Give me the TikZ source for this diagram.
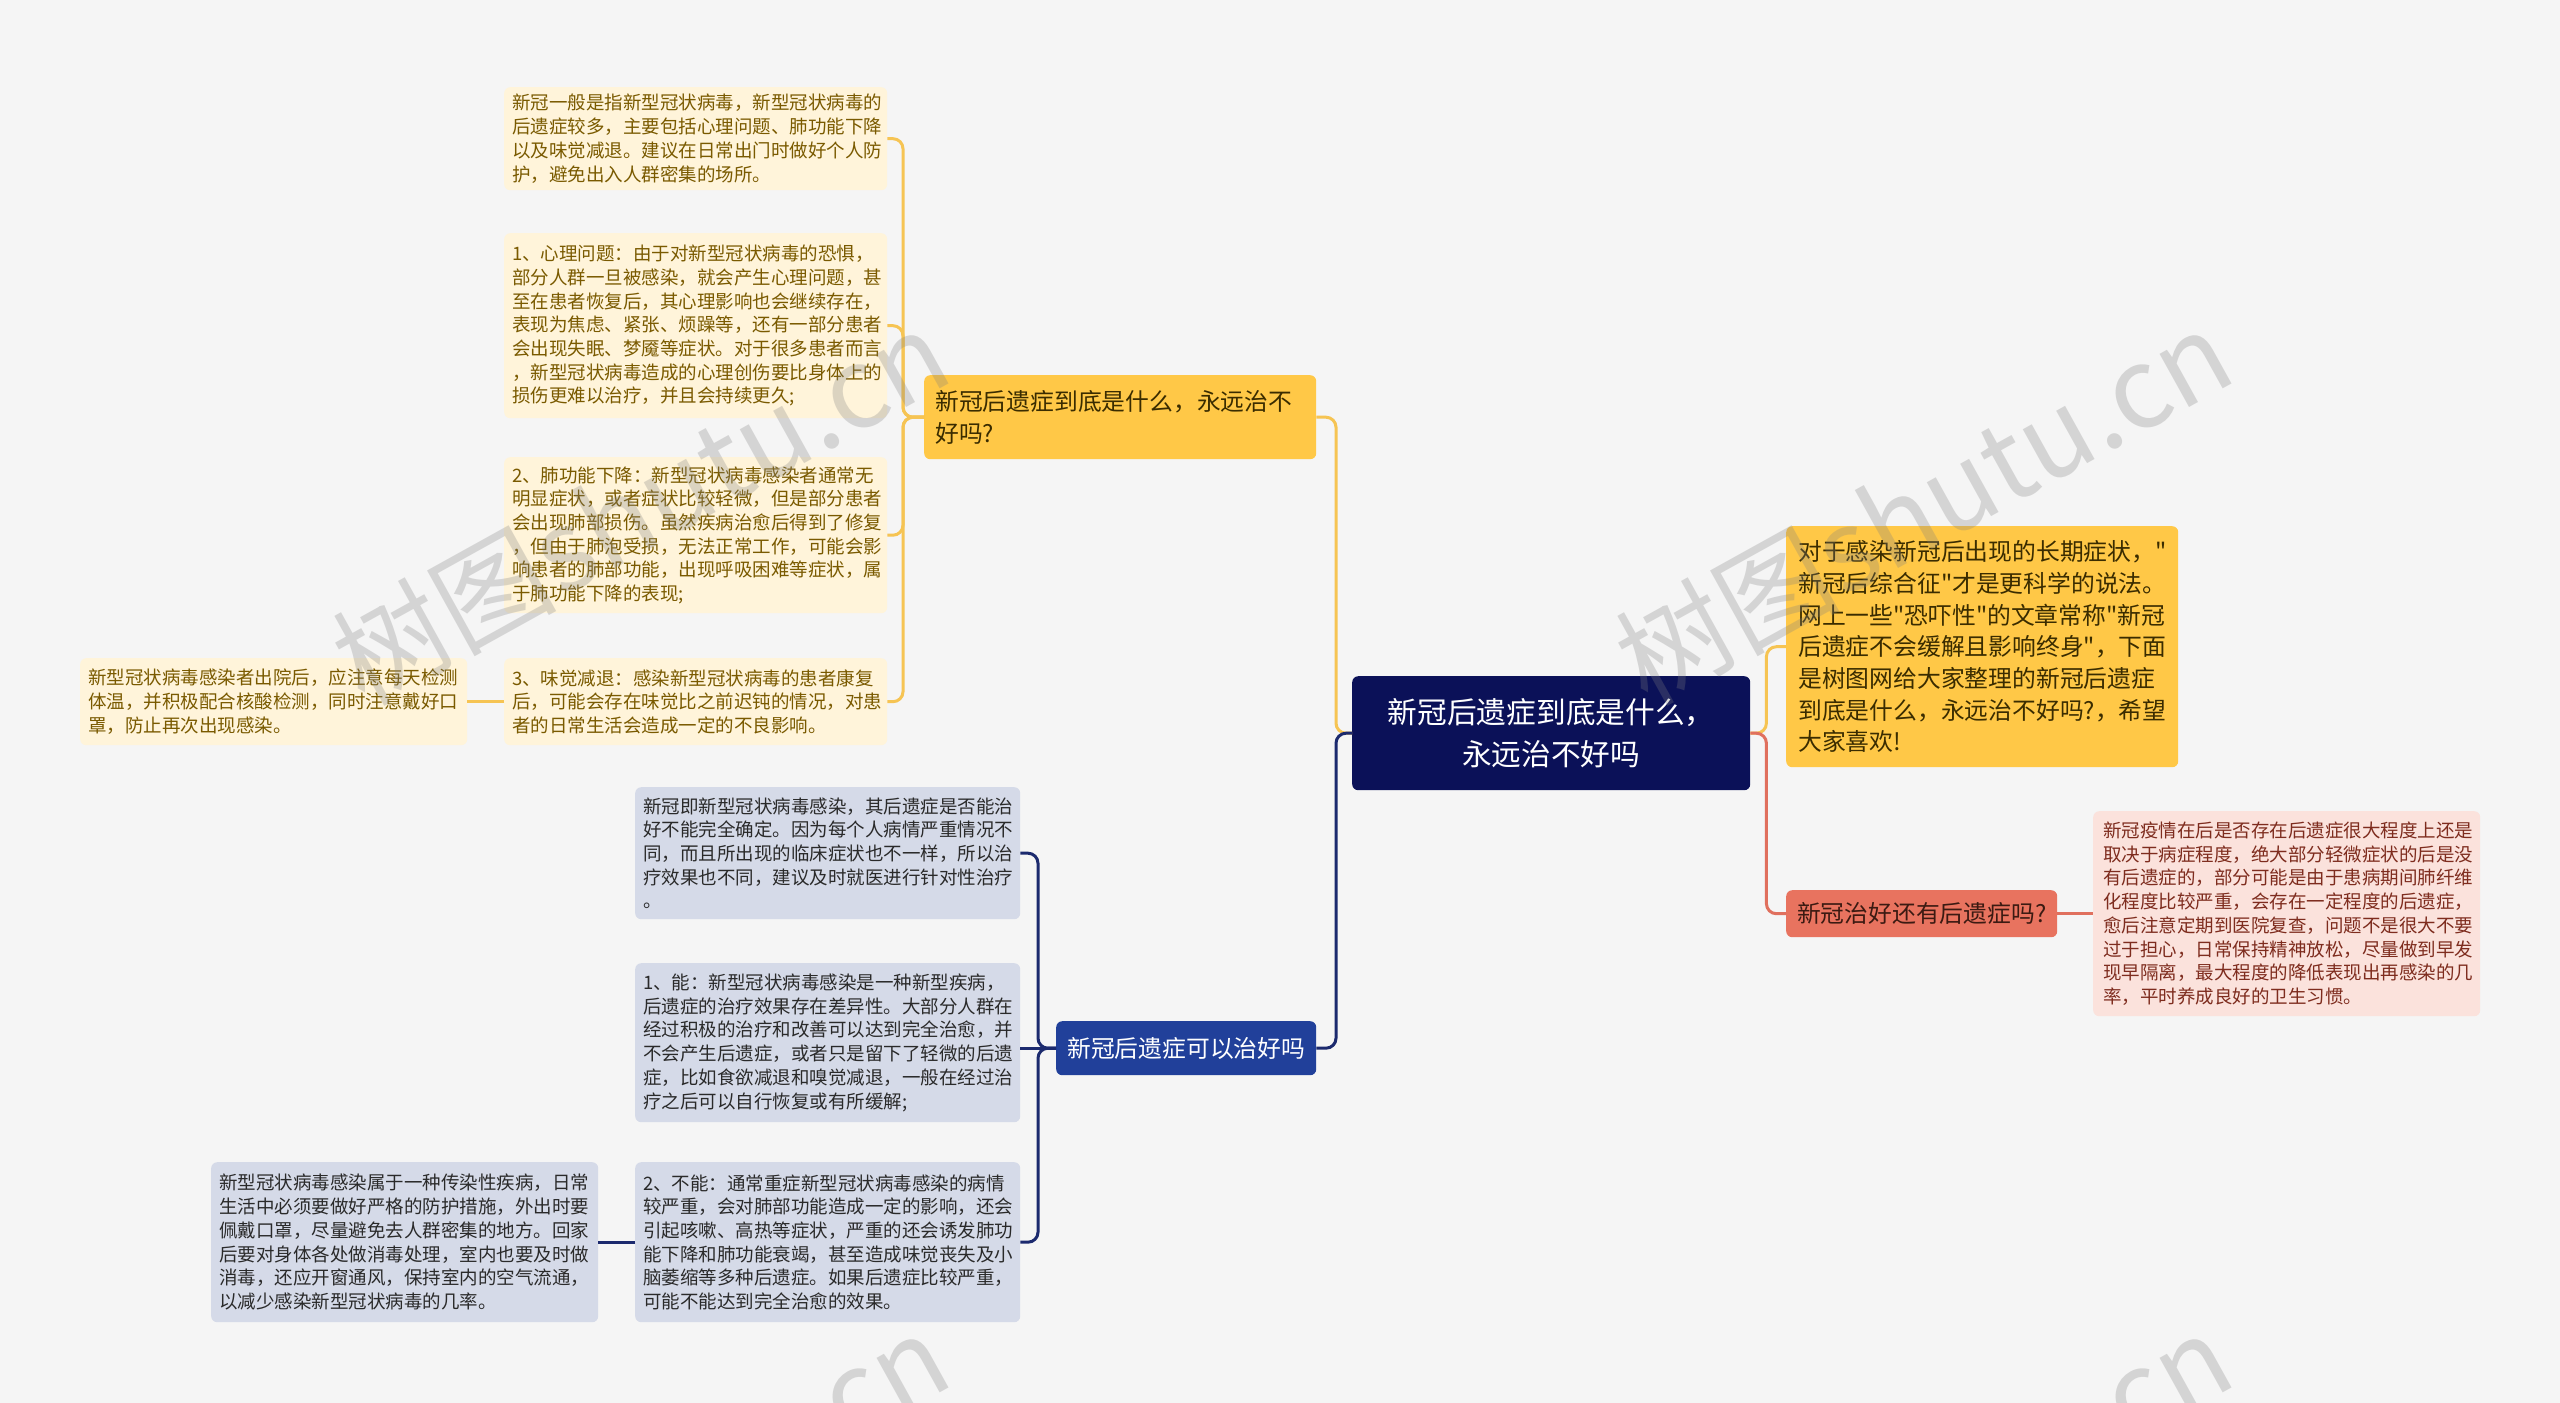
\documentclass[tikz,border=0pt]{standalone}
\usepackage{fontspec}
\newfontfamily\cjk{Noto Sans CJK SC}
\definecolor{bgc}{HTML}{F5F5F5}
\definecolor{rootc}{HTML}{0B1158}
\definecolor{yel}{HTML}{FFC847}
\definecolor{yleaf}{HTML}{FFF4DA}
\definecolor{ytext}{HTML}{7A5A00}
\definecolor{ydark}{HTML}{3A2C00}
\definecolor{ycon}{HTML}{F6C453}
\definecolor{blu}{HTML}{21409A}
\definecolor{bleaf}{HTML}{D5DAE8}
\definecolor{btext}{HTML}{2A2A2A}
\definecolor{bconc}{HTML}{1C2A6E}
\definecolor{redn}{HTML}{E8735F}
\definecolor{rleaf}{HTML}{FBE2DC}
\definecolor{rtext}{HTML}{7E2C1E}
\definecolor{rdark}{HTML}{3B1A12}
\definecolor{rconc}{HTML}{E0705E}
\tikzset{
  box/.style={rounded corners=6pt, anchor=north west, inner ysep=0pt},
  smallfont/.style={font=\cjk\fontsize{18.5}{23.7}\selectfont},
  bigfont/.style={font=\cjk\fontsize{23.8}{31.7}\selectfont},
  yleafbox/.style={box, smallfont, fill=yleaf, text=ytext, align=left, inner xsep=8pt},
  bleafbox/.style={box, smallfont, fill=bleaf, text=btext, align=left, inner xsep=8pt},
  rleafbox/.style={box, smallfont, fill=rleaf, text=rtext, align=left, inner xsep=10pt},
  ycon/.style={draw=ycon, line width=3pt, rounded corners=10pt},
  bcon/.style={draw=bconc, line width=3pt, rounded corners=10pt},
  rcon/.style={draw=rconc, line width=3pt, rounded corners=10pt},
  wmark/.style={rotate=29, font=\cjk\fontsize{112}{112}\selectfont, text=gray, opacity=0.28}
}
\begin{document}
\begin{tikzpicture}[x=1pt,y=-1pt]
\useasboundingbox (0,0) rectangle (2560,1403);
\clip (0,0) rectangle (2560,1403);
\fill[bgc] (0,0) rectangle (2560,1403);

% root
\node[box, fill=rootc, text=white, align=center, minimum width=398pt, minimum height=114pt,
  font=\cjk\fontsize{29.7}{42.4}\selectfont] (root) at (1352,676)
  {新冠后遗症到底是什么，\\永远治不好吗};

% right side
\node[box, bigfont, fill=yel, text=ydark, align=left, inner xsep=12pt, text width=368pt, minimum height=241pt] (yr) at (1786,526)
  {对于感染新冠后出现的长期症状，"\\新冠后综合征"才是更科学的说法。\\网上一些"恐吓性"的文章常称"新冠\\后遗症不会缓解且影响终身"，下面\\是树图网给大家整理的新冠后遗症\\到底是什么，永远治不好吗?，希望\\大家喜欢!};
\node[box, bigfont, fill=redn, text=rdark, inner xsep=4pt, minimum width=271pt, minimum height=47pt] (rr) at (1786,890)
  {新冠治好还有后遗症吗?};
\node[rleafbox, text width=367pt, minimum height=205pt] (rl) at (2093,811)
  {新冠疫情在后是否存在后遗症很大程度上还是\\取决于病症程度，绝大部分轻微症状的后是没\\有后遗症的，部分可能是由于患病期间肺纤维\\化程度比较严重，会存在一定程度的后遗症，\\愈后注意定期到医院复查，问题不是很大不要\\过于担心，日常保持精神放松，尽量做到早发\\现早隔离，最大程度的降低表现出再感染的几\\率，平时养成良好的卫生习惯。};

% yellow branch
\node[box, bigfont, fill=yel, text=ydark, align=left, inner xsep=11pt, text width=370pt, minimum height=84pt] (yb) at (924,375)
  {新冠后遗症到底是什么，永远治不\\好吗?};
\node[yleafbox, text width=367pt, minimum height=103pt] (L1) at (504,87)
  {新冠一般是指新型冠状病毒，新型冠状病毒的\\后遗症较多，主要包括心理问题、肺功能下降\\以及味觉减退。建议在日常出门时做好个人防\\护，避免出入人群密集的场所。};
\node[yleafbox, text width=367pt, minimum height=185pt] (L2) at (504,233)
  {1、心理问题：由于对新型冠状病毒的恐惧，\\部分人群一旦被感染，就会产生心理问题，甚\\至在患者恢复后，其心理影响也会继续存在，\\表现为焦虑、紧张、烦躁等，还有一部分患者\\会出现失眠、梦魇等症状。对于很多患者而言\\，新型冠状病毒造成的心理创伤要比身体上的\\损伤更难以治疗，并且会持续更久;};
\node[yleafbox, text width=367pt, minimum height=156pt] (L3) at (504,457)
  {2、肺功能下降：新型冠状病毒感染者通常无\\明显症状，或者症状比较轻微，但是部分患者\\会出现肺部损伤。虽然疾病治愈后得到了修复\\，但由于肺泡受损，无法正常工作，可能会影\\响患者的肺部功能，出现呼吸困难等症状，属\\于肺功能下降的表现;};
\node[yleafbox, text width=367pt, minimum height=87pt] (L4) at (504,658)
  {3、味觉减退：感染新型冠状病毒的患者康复\\后，可能会存在味觉比之前迟钝的情况，对患\\者的日常生活会造成一定的不良影响。};
\node[yleafbox, text width=371pt, minimum height=87pt] (L4c) at (80,658)
  {新型冠状病毒感染者出院后，应注意每天检测\\体温，并积极配合核酸检测，同时注意戴好口\\罩，防止再次出现感染。};

% blue branch
\node[box, bigfont, fill=blu, text=white, inner xsep=4pt, minimum width=260pt, minimum height=54pt] (bb) at (1056,1021)
  {新冠后遗症可以治好吗};
\node[bleafbox, text width=369pt, minimum height=132pt] (B1) at (635,787)
  {新冠即新型冠状病毒感染，其后遗症是否能治\\好不能完全确定。因为每个人病情严重情况不\\同，而且所出现的临床症状也不一样，所以治\\疗效果也不同，建议及时就医进行针对性治疗\\。};
\node[bleafbox, text width=369pt, minimum height=159pt] (B2) at (635,963)
  {1、能：新型冠状病毒感染是一种新型疾病，\\后遗症的治疗效果存在差异性。大部分人群在\\经过积极的治疗和改善可以达到完全治愈，并\\不会产生后遗症，或者只是留下了轻微的后遗\\症，比如食欲减退和嗅觉减退，一般在经过治\\疗之后可以自行恢复或有所缓解;};
\node[bleafbox, text width=369pt, minimum height=160pt] (B3) at (635,1162)
  {2、不能：通常重症新型冠状病毒感染的病情\\较严重，会对肺部功能造成一定的影响，还会\\引起咳嗽、高热等症状，严重的还会诱发肺功\\能下降和肺功能衰竭，甚至造成味觉丧失及小\\脑萎缩等多种后遗症。如果后遗症比较严重，\\可能不能达到完全治愈的效果。};
\node[bleafbox, text width=371pt, minimum height=160pt] (B3c) at (211,1162)
  {新型冠状病毒感染属于一种传染性疾病，日常\\生活中必须要做好严格的防护措施，外出时要\\佩戴口罩，尽量避免去人群密集的地方。回家\\后要对身体各处做消毒处理，室内也要及时做\\消毒，还应开窗通风，保持室内的空气流通，\\以减少感染新型冠状病毒的几率。};

% connectors
\draw[ycon] (root.west) -- ++(-16,0) |- (yb.east);
\draw[bcon] (root.west) -- ++(-16,0) |- (bb.east);
\draw[ycon] (root.east) -- ++(16,0) |- (yr.west);
\draw[rcon] (root.east) -- ++(16,0) |- (rr.west);
\draw[rcon] (rr.east) -- (rl.west);
\foreach \n in {L1,L2,L3,L4}{
  \draw[ycon] (yb.west) -- ++(-21,0) |- (\n.east);
}
\draw[ycon] (L4.west) -- (L4c.east);
\draw[bcon] (bb.west) -- ++(-18,0) |- (B1.east);
\draw[bcon] (bb.west) -- ++(-18,0) |- (B3.east);
\draw[bcon] (bb.west) -- (B2.east |- bb.west);
\draw[bcon] (B3.west) -- (B3c.east);

% watermarks
\node[wmark] (w1) at (640,506) {树图shutu.cn};
\node[wmark] (w2) at (1923,506) {树图shutu.cn};
\node[wmark] (w3) at (640,1510) {树图shutu.cn};
\node[wmark] (w4) at (1923,1510) {树图shutu.cn};
\end{tikzpicture}
\end{document}
